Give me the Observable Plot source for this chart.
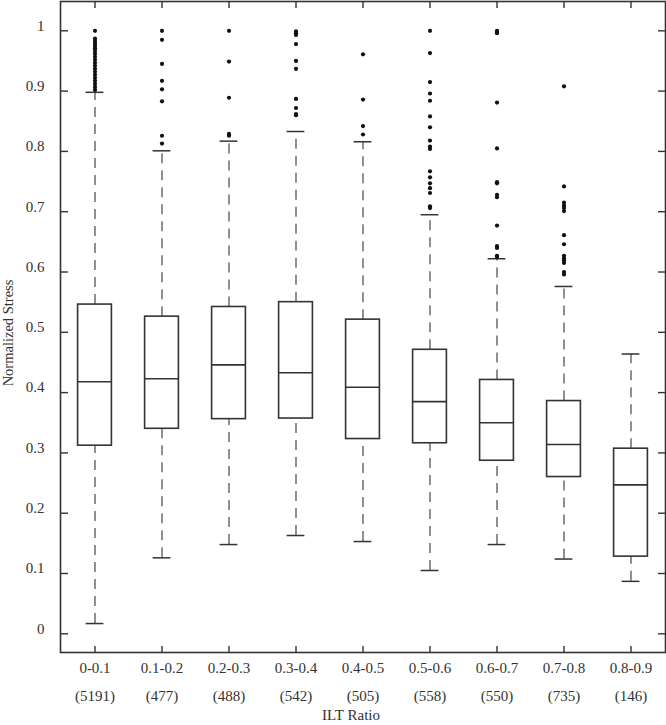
<!DOCTYPE html>
<html><head><meta charset="utf-8">
<script src="https://cdn.jsdelivr.net/npm/d3@7"></script>
<script src="https://cdn.jsdelivr.net/npm/@observablehq/plot@0.6"></script>
<style>body{margin:0;background:#fff}</style>
</head><body><div id="chart"></div>
<script>
const categories = ["0-0.1","0.1-0.2","0.2-0.3","0.3-0.4","0.4-0.5","0.5-0.6","0.6-0.7","0.7-0.8","0.8-0.9"];
const counts = [5191, 477, 488, 542, 505, 558, 550, 735, 146];
const lowerWhisker = [0.017, 0.126, 0.148, 0.163, 0.153, 0.105, 0.148, 0.124, 0.087];
const q1 = [0.312, 0.340, 0.356, 0.357, 0.323, 0.316, 0.287, 0.260, 0.128];
const median = [0.418, 0.423, 0.446, 0.433, 0.409, 0.385, 0.350, 0.314, 0.247];
const q3 = [0.546, 0.526, 0.542, 0.550, 0.521, 0.471, 0.421, 0.386, 0.307];
const upperWhisker = [0.898, 0.801, 0.817, 0.833, 0.816, 0.695, 0.622, 0.576, 0.464];
const outliers = [
  [1.0, 0.987, 0.983, 0.979, 0.975, 0.971, 0.967, 0.962, 0.957, 0.952, 0.947, 0.942, 0.937, 0.932, 0.927, 0.922, 0.917, 0.912, 0.907, 0.902],
  [1.0, 0.985, 0.945, 0.917, 0.903, 0.883, 0.826, 0.813],
  [1.0, 0.949, 0.889, 0.829, 0.826],
  [0.999, 0.996, 0.993, 0.978, 0.950, 0.937, 0.887, 0.872, 0.862, 0.860],
  [0.961, 0.886, 0.842, 0.828],
  [1.0, 0.963, 0.915, 0.896, 0.884, 0.858, 0.840, 0.818, 0.808, 0.804, 0.767, 0.757, 0.747, 0.739, 0.731, 0.709, 0.706],
  [1.0, 0.998, 0.996, 0.881, 0.805, 0.749, 0.747, 0.728, 0.724, 0.677, 0.643, 0.640, 0.627, 0.625],
  [0.908, 0.742, 0.715, 0.710, 0.706, 0.701, 0.661, 0.646, 0.627, 0.623, 0.619, 0.615, 0.600, 0.596],
  []
];
const yTicks = [0, 0.1, 0.2, 0.3, 0.4, 0.5, 0.6, 0.7, 0.8, 0.9, 1];
const yTickLabels = ["0", "0.1", "0.2", "0.3", "0.4", "0.5", "0.6", "0.7", "0.8", "0.9", "1"];
const xTitle = "ILT Ratio";
const yTitle = "Normalized Stress";

const boxes = categories.map((c, i) => ({cat: c, lo: lowerWhisker[i], q1: q1[i], med: median[i], q3: q3[i], hi: upperWhisker[i]}));
const points = categories.flatMap((c, i) => outliers[i].map(v => ({cat: c, v})));
const countOf = new Map(categories.map((c, i) => [c, `(${counts[i]})`]));
const labelOf = new Map(yTicks.map((t, i) => [t, yTickLabels[i]]));

const W = 666, H = 725, mL = 60, mR = 1, mT = 1, mB = 73;
const pw = W - mL - mR, ph = H - mT - mB;
const ink = "#333";
const font = "'Liberation Serif', 'Times New Roman', serif";
const fs = 15;
const boxInset = 16.6, capInset = 24.6;

const plot = Plot.plot({
  width: W, height: H,
  marginLeft: mL, marginRight: mR, marginTop: mT, marginBottom: mB,
  style: {fontFamily: font, fontSize: fs + "px", color: ink, background: "#fff"},
  x: {type: "band", domain: categories, padding: 0, label: null},
  y: {domain: [-0.031, 1.0486], label: null},
  marks: [
    Plot.ruleX(boxes, {x: "cat", y1: "q3", y2: "hi", stroke: "#555", strokeWidth: 1.3, strokeDasharray: "10,7"}),
    Plot.ruleX(boxes, {x: "cat", y1: "lo", y2: "q1", stroke: "#555", strokeWidth: 1.3, strokeDasharray: "10,7"}),
    Plot.tickY(boxes, {x: "cat", y: "hi", insetLeft: capInset, insetRight: capInset, stroke: ink, strokeWidth: 1.5}),
    Plot.tickY(boxes, {x: "cat", y: "lo", insetLeft: capInset, insetRight: capInset, stroke: ink, strokeWidth: 1.5}),
    Plot.barY(boxes, {x: "cat", y1: "q1", y2: "q3", insetLeft: boxInset, insetRight: boxInset, fill: "white", stroke: ink, strokeWidth: 1.6}),
    Plot.tickY(boxes, {x: "cat", y: "med", insetLeft: boxInset, insetRight: boxInset, stroke: ink, strokeWidth: 1.6}),
    Plot.dot(points, {x: "cat", y: "v", r: 2.1, fill: "#111", stroke: null}),
    Plot.frame({stroke: ink, strokeWidth: 1.6}),
    // y tick labels (left)
    Plot.axisY(yTicks, {anchor: "left", tickSize: 0, tickPadding: 16, dy: -5, tickFormat: d => labelOf.get(d), label: null, fill: ink, fontSize: fs, fontFamily: font}),
    // inward ticks, left and right
    Plot.axisY(yTicks, {anchor: "right", tickSize: 7, dx: -pw, tickFormat: () => "", label: null, stroke: ink, strokeWidth: 1.4}),
    Plot.axisY(yTicks, {anchor: "left", tickSize: 7, dx: pw, tickFormat: () => "", label: null, stroke: ink, strokeWidth: 1.4}),
    // inward ticks, top and bottom
    Plot.axisX({anchor: "bottom", tickSize: 7, dy: -ph, tickFormat: () => "", label: null, stroke: ink, strokeWidth: 1.4}),
    Plot.axisX({anchor: "top", tickSize: 7, dy: ph, tickFormat: () => "", label: null, stroke: ink, strokeWidth: 1.4}),
    // category labels and counts
    Plot.axisX({anchor: "bottom", tickSize: 0, tickPadding: 9.4, label: null, fill: ink, fontSize: fs, fontFamily: font}),
    Plot.axisX({anchor: "bottom", tickSize: 0, tickPadding: 37.5, tickFormat: c => countOf.get(c), label: null, fill: ink, fontSize: fs, fontFamily: font}),
    Plot.text([xTitle], {text: d => d, frameAnchor: "bottom", lineAnchor: "bottom", textAnchor: "middle", dy: 67, dx: -12, fill: ink, fontSize: fs, fontFamily: font}),
    Plot.text([yTitle], {text: d => d, frameAnchor: "left", lineAnchor: "middle", textAnchor: "middle", rotate: -90, dx: -52, dy: 6, fill: ink, fontSize: 14.5, fontFamily: font})
  ]
});
document.getElementById("chart").appendChild(plot);
</script>
</body></html>
